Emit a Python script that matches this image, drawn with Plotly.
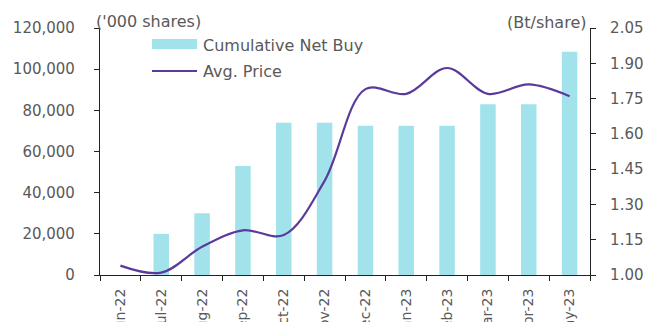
import plotly.graph_objects as go

months = ["Jun-22", "Jul-22", "Aug-22", "Sep-22", "Oct-22", "Nov-22",
          "Dec-22", "Jan-23", "Feb-23", "Mar-23", "Apr-23", "May-23"]
net_buy = [0, 20000, 30000, 53000, 74000, 74000,
           72500, 72500, 72500, 83000, 83000, 108500]
avg_price = [1.04, 1.01, 1.12, 1.19, 1.17, 1.40,
             1.79, 1.77, 1.88, 1.77, 1.81, 1.76]

left_ticks = [0, 20000, 40000, 60000, 80000, 100000, 120000]
right_ticks = [1.00, 1.15, 1.30, 1.45, 1.60, 1.75, 1.90, 2.05]

BAR_COLOR = "#A2E3EB"
LINE_COLOR = "#5B3A9C"
TEXT_COLOR = "#595959"
FONT = "DejaVu Sans, Verdana, sans-serif"

fig = go.Figure()
fig.add_trace(go.Bar(x=months, y=net_buy, name="Cumulative Net Buy",
                     marker=dict(color=BAR_COLOR, line=dict(width=0)),
                     width=0.38, yaxis="y", showlegend=False))
fig.add_trace(go.Scatter(x=months, y=avg_price, name="Avg. Price",
                         mode="lines", line=dict(color=LINE_COLOR, width=2.2, shape="spline", smoothing=1.0),
                         yaxis="y2", showlegend=False))

W, H = 656, 322
L, R, T, B = 100, 66, 28, 47
pw, ph = W - L - R, H - T - B

def px(x):
    return (x - L) / pw

def py(y):
    return 1 - (y - T) / ph

fig.update_layout(
    width=W, height=H,
    margin=dict(l=L, r=R, t=T, b=B, autoexpand=False),
    paper_bgcolor="white", plot_bgcolor="white",
    font=dict(family=FONT, size=15, color=TEXT_COLOR),
    bargap=0.6,
    xaxis=dict(type="category", showline=True, linecolor="#222222", linewidth=1.2,
               ticks="outside", ticklen=5, tickcolor="#222222", tickson="boundaries",
               tickangle=-90, tickfont=dict(size=14, color=TEXT_COLOR), ticklabelstandoff=7,
               showgrid=False, automargin=False, range=[-0.5, 11.5]),
    yaxis=dict(range=[0, 120000], tickvals=left_ticks, tickformat=",",
               showline=True, linecolor="#222222", linewidth=1.2,
               ticks="outside", ticklen=5, tickcolor="#222222",
               showgrid=False, zeroline=False, automargin=False,
               tickfont=dict(size=15, color=TEXT_COLOR), ticklabelstandoff=16),
    yaxis2=dict(range=[1.00, 2.05], tickvals=right_ticks, tickformat=".2f",
                overlaying="y", side="right",
                showline=True, linecolor="#222222", linewidth=1.2,
                ticks="outside", ticklen=5, tickcolor="#222222",
                showgrid=False, zeroline=False, automargin=False,
                tickfont=dict(size=15, color=TEXT_COLOR), ticklabelstandoff=11),
)

# axis unit labels
fig.add_annotation(text="('000 shares)", xref="paper", yref="paper",
                   x=px(94), y=py(21), xanchor="left", yanchor="middle",
                   showarrow=False, font=dict(size=16, color=TEXT_COLOR))
fig.add_annotation(text="(Bt/share)", xref="paper", yref="paper",
                   x=px(588), y=py(23), xanchor="right", yanchor="middle",
                   showarrow=False, font=dict(size=16, color=TEXT_COLOR))

# legend
fig.add_shape(type="rect", xref="paper", yref="paper",
              x0=px(152), x1=px(197), y0=py(49), y1=py(39),
              fillcolor=BAR_COLOR, line=dict(width=0))
fig.add_annotation(text="Cumulative Net Buy", xref="paper", yref="paper",
                   x=px(201), y=py(45), xanchor="left", yanchor="middle",
                   showarrow=False, font=dict(size=16, color=TEXT_COLOR))
fig.add_shape(type="line", xref="paper", yref="paper",
              x0=px(152), x1=px(197), y0=py(71), y1=py(71),
              line=dict(color=LINE_COLOR, width=2.2))
fig.add_annotation(text="Avg. Price", xref="paper", yref="paper",
                   x=px(201), y=py(71), xanchor="left", yanchor="middle",
                   showarrow=False, font=dict(size=16, color=TEXT_COLOR))

fig.write_html("out.html")
